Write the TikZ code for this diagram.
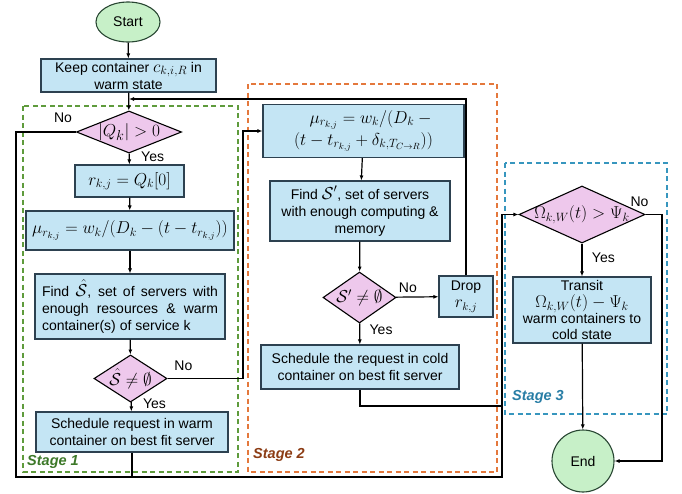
\documentclass[tikz,border=0pt]{standalone}
\usepackage{amsmath}
\usepackage{fontspec}
\setmainfont{Liberation Sans}
\usetikzlibrary{shapes.geometric,arrows.meta,positioning}

\definecolor{boxfill}{RGB}{196,229,244}
\definecolor{boxline}{RGB}{45,65,80}
\definecolor{decfill}{RGB}{238,200,236}
\definecolor{termfill}{RGB}{199,240,200}
\definecolor{termline}{RGB}{40,70,50}
\definecolor{stone}{RGB}{95,155,60}
\definecolor{sttwo}{RGB}{228,120,60}
\definecolor{stthree}{RGB}{55,150,190}
\definecolor{txone}{RGB}{60,120,40}
\definecolor{txtwo}{RGB}{140,60,20}
\definecolor{txthree}{RGB}{40,125,165}

\newcommand\mathsz{\fontsize{18}{20}\selectfont}

\begin{document}
\begin{tikzpicture}[x=1pt,y=-1pt,
    font=\fontsize{14}{17}\selectfont,
    proc/.style={draw=boxline, fill=boxfill, line width=1.1pt, inner sep=1pt, align=center},
    dec/.style={diamond, draw=black, fill=decfill, line width=1.1pt, inner sep=0pt},
    term/.style={draw=termline, fill=termfill, line width=1.1pt},
    arr/.style={-{Latex[length=5pt,width=4pt]}, line width=1.2pt},
    ln/.style={line width=1.2pt},
    stagebox/.style={dash pattern=on 5pt off 3.5pt, line width=1.2pt},
    stagelbl/.style={font=\fontsize{14.5}{16}\selectfont\bfseries\itshape, inner sep=1pt, anchor=west}]
    \useasboundingbox (0,0) rectangle (682,493);

    % stages
    \draw[stagebox, draw=stone] (23,106) rectangle (238,472);
    \draw[stagebox, draw=sttwo] (248,84) rectangle (497,472);
    \draw[stagebox, draw=stthree] (505,163) rectangle (667,414);
    \node[stagelbl, text=txone] at (26,462) {Stage 1};
    \node[stagelbl, text=txtwo] at (252,455) {Stage 2};
    \node[stagelbl, text=txthree] at (511,397) {Stage 3};

    % stage 1
    \node[term, ellipse, minimum width=64pt, minimum height=40pt] (a0) at (128,22) {Start};
    \node[proc, minimum width=175pt, minimum height=33pt] (a1) at (128.5,75.5) {Keep container {\fontsize{17}{17}\selectfont$c_{k,i,R}$} in\\warm state};
    \node[dec, aspect=2.5, minimum width=104pt, minimum height=41pt, font=\fontsize{19}{20}\selectfont] (a2) at (129,132) {$|Q_k|>0$};
    \node[proc, minimum width=109pt, minimum height=32pt, font=\mathsz] (a3) at (129.5,181) {$r_{k,j}=Q_k[0]$};
    \node[proc, minimum width=208pt, minimum height=39pt, inner sep=0pt, font=\mathsz] (a4) at (130,230.5) {$\mu_{r_{k,j}}=w_k/(D_k-(t-t_{r_{k,j}}))$};
    \node[proc, minimum width=190pt, minimum height=65pt, text width=176pt, align=justify] (a5) at (130,306.5)
        {Find {\mathsz$\hat{\mathcal{S}}$}, set of servers with\linebreak enough resources \& warm\linebreak container(s) of service k};
    \node[dec, aspect=1.55, minimum width=73pt, minimum height=47pt, font=\mathsz] (a6) at (130.5,378.5) {$\hat{\mathcal{S}}\neq\emptyset$};
    \node[proc, minimum width=192pt, minimum height=40pt] (a7) at (132,432) {Schedule request in warm\\container on best fit server};

    % stage 2
    \node[proc, minimum width=201pt, minimum height=53pt, font=\fontsize{18}{22}\selectfont] (b1) at (363.5,131)
        {\hspace*{18pt}$\mu_{r_{k,j}}=w_k/(D_k-{}$\\$(t-t_{r_{k,j}}+\delta_{k,T_{C\to R}}))$};
    \node[proc, minimum width=180pt, minimum height=60pt] (b2) at (360,211) {Find {\mathsz$\mathcal{S}'$}, set of servers\\with enough computing \&\\memory};
    \node[dec, aspect=1.43, minimum width=73pt, minimum height=51pt, font=\mathsz] (b3) at (359.5,297.5) {$\mathcal{S}'\neq\emptyset$};
    \node[proc, minimum width=54pt, minimum height=41pt] (b4) at (466,296.5) {Drop\\{\fontsize{16}{17}\selectfont$r_{k,j}$}};
    \node[proc, minimum width=198pt, minimum height=44pt] (b5) at (360,367) {Schedule the request in cold\\container on best fit server};

    % stage 3
    \node[dec, minimum width=126pt, minimum height=57pt, label={[font=\mathsz]center:$\Omega_{k,W}(t)>\Psi_k$}] (c1) at (582,214.5) {};
    \node[proc, minimum width=138pt, minimum height=66pt, inner sep=0pt, font=\fontsize{14}{16}\selectfont] (c2) at (582,310)
        {Transit\\[1pt]{\mathsz$\Omega_{k,W}(t)-\Psi_k$}\\warm containers to\\cold state};
    \node[term, circle, minimum size=62pt] (c3) at (583,461) {End};

    \coordinate (m1) at (16,477);
    \coordinate (m2) at (502,477);
    \coordinate (m3) at (243,131);
    \coordinate (m4) at (129,99);
    \coordinate (m5) at (502,406);
    \coordinate (m6) at (662,461);

    % connectors
    \draw[arr] (a0) -- (a1);
    \draw[arr] (a1) -- (a2);
    \draw[arr] (a2) -- node[right=8pt, pos=0.3] {Yes} (a3);
    \draw[arr] (a2.west) -| node[pos=0, above left=5pt and 0pt] {No} (m1) -- (m2) |- (c1.west);
    \draw[arr] (a3) -- (a4);
    \draw[arr] (a4) -- (a5);
    \draw[arr] (a5) -- (a6);
    \draw[arr] (a6) -- node[right=8pt, pos=0.2] {Yes} (a7);
    \draw[arr] (a6.east) -| node[pos=0, above right=4pt and 3pt] {No} (m3) -- (b1.west);
    \draw[ln] (a7) -- (a7 |- m1);

    \draw[arr] (b1) -- (b2);
    \draw[arr] (b2) -- (b3);
    \draw[arr] (b3) -- node[above, pos=0.28] {No} (b4);
    \draw[arr] (b4) |- (m4);
    \draw[arr] (b3) -- node[right=6pt, pos=0.3] {Yes} (b5);
    \draw[ln] (b5) |- (m5);

    \draw[arr] (c1) -- node[right=6pt, pos=0.44] {Yes} (c2);
    \draw[arr] (c1.east) -| node[pos=0, above=4pt, xshift=-6pt] {No} (m6) -- (c3);
    \draw[arr] (c2) -- (c3);
\end{tikzpicture}
\end{document}
